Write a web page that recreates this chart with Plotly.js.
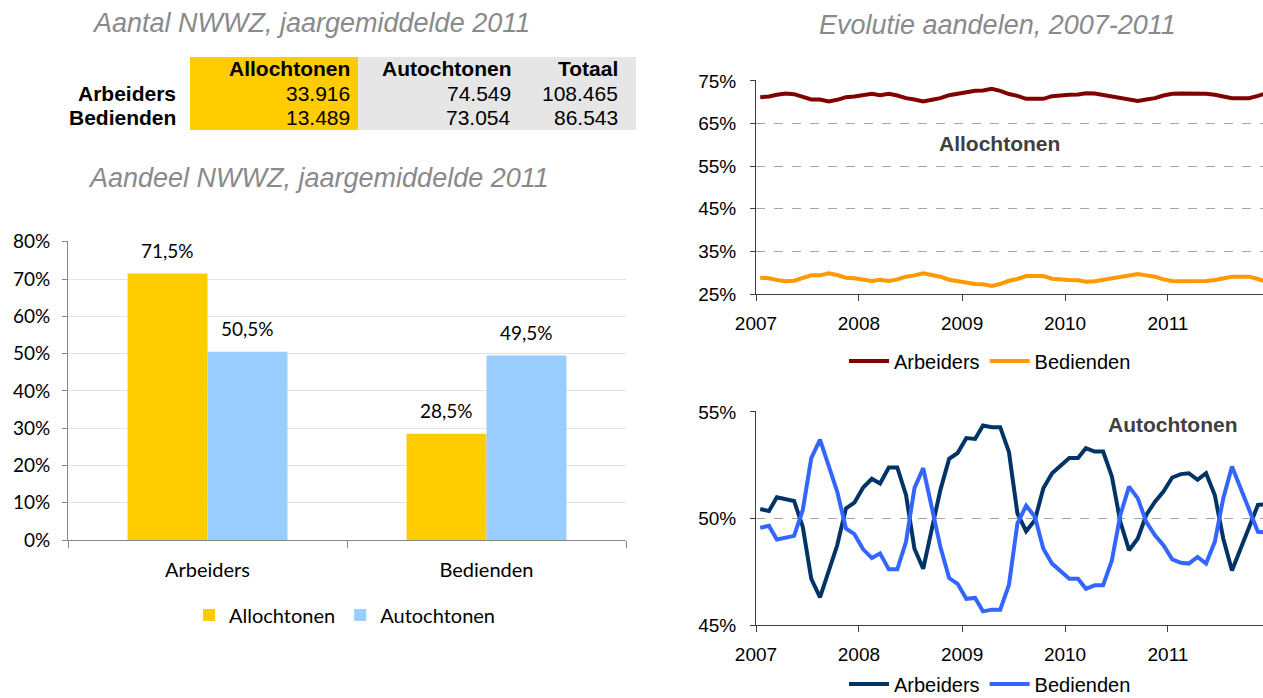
<!DOCTYPE html>
<html><head><meta charset="utf-8">
<script src="https://cdn.plot.ly/plotly-3.0.1.min.js"></script>
<style>html,body{margin:0;padding:0;background:#fff;overflow:hidden}#chart{width:1263px;height:698px}</style>
</head><body><div id="chart"></div>
<script>
// ---------- data ----------
const tableTitle = 'Aantal NWWZ, jaargemiddelde 2011';
const barTitle = 'Aandeel NWWZ, jaargemiddelde 2011';
const lineTitle = 'Evolutie aandelen, 2007-2011';
const tableCols = ['Allochtonen', 'Autochtonen', 'Totaal'];
const tableRows = ['Arbeiders', 'Bedienden'];
const tableValues = [['33.916', '74.549', '108.465'], ['13.489', '73.054', '86.543']];
const barCategories = ['Arbeiders', 'Bedienden'];
const barAllochtonen = [71.5, 28.5];
const barAutochtonen = [50.5, 49.5];
const years = ['2007', '2008', '2009', '2010', '2011'];
const lineSeries = ['Arbeiders', 'Bedienden'];
const allochArbeiders = [71.17, 71.33, 71.72, 72.03, 71.88, 71.17, 70.63, 70.63, 70.16, 70.55, 71.17, 71.33,
  71.64, 71.95, 71.64, 71.95, 71.56, 70.94, 70.63, 70.16, 70.55, 70.94, 71.64, 72.03,
  72.34, 72.66, 72.73, 73.13, 72.66, 71.90, 71.48, 70.78, 70.78, 70.78, 71.40, 71.64,
  71.72, 71.80, 72.10, 72.03, 71.72, 71.25, 71.10, 70.78, 70.31, 70.63, 70.94, 71.56,
  71.95, 72.03, 72.03, 72.03, 71.95, 71.72, 71.40, 70.94, 70.94, 70.94, 71.48, 72.10];
const allochBedienden = [28.83, 28.67, 28.28, 27.97, 28.12, 28.83, 29.37, 29.37, 29.84, 29.45, 28.83, 28.67,
  28.36, 28.05, 28.36, 28.05, 28.44, 29.06, 29.37, 29.84, 29.45, 29.06, 28.36, 27.97,
  27.66, 27.34, 27.27, 26.87, 27.34, 28.10, 28.52, 29.22, 29.22, 29.22, 28.60, 28.36,
  28.28, 28.20, 27.90, 27.97, 28.28, 28.75, 28.90, 29.22, 29.69, 29.37, 29.06, 28.44,
  28.05, 27.97, 27.97, 27.97, 28.05, 28.28, 28.60, 29.06, 29.06, 29.06, 28.52, 27.90];
const autochArbeiders = [50.44, 50.35, 50.99, 50.91, 50.82, 49.60, 47.17, 46.30, 47.48, 48.74, 50.47, 50.74,
  51.45, 51.86, 51.64, 52.39, 52.39, 51.10, 48.58, 47.64, 49.53, 51.34, 52.80, 53.07,
  53.77, 53.73, 54.36, 54.28, 54.28, 53.12, 50.24, 49.40, 49.92, 51.42, 52.12, 52.44,
  52.83, 52.83, 53.30, 53.14, 53.14, 51.97, 49.84, 48.51, 49.06, 50.16, 50.79, 51.26,
  51.92, 52.08, 52.12, 51.81, 52.12, 51.10, 49.06, 47.56, 48.58, 49.60, 50.63, 50.66];
const autochBedienden = [49.56, 49.65, 49.01, 49.09, 49.18, 50.40, 52.83, 53.70, 52.52, 51.26, 49.53, 49.26,
  48.55, 48.14, 48.36, 47.61, 47.61, 48.90, 51.42, 52.36, 50.47, 48.66, 47.20, 46.93,
  46.23, 46.27, 45.64, 45.72, 45.72, 46.88, 49.76, 50.60, 50.08, 48.58, 47.88, 47.56,
  47.17, 47.17, 46.70, 46.86, 46.86, 48.03, 50.16, 51.49, 50.94, 49.84, 49.21, 48.74,
  48.08, 47.92, 47.88, 48.19, 47.88, 48.90, 50.94, 52.44, 51.42, 50.40, 49.37, 49.34];

// month dates (mid-month) built from the year labels
const months = [];
years.forEach(y => { for (let m = 1; m <= 12; m++) months.push(y + '-' + String(m).padStart(2, '0') + '-16'); });

// ---------- layout helpers ----------
const W = 1263, H = 698;
const px = x => x / W;
const py = y => 1 - y / H;
const fmtPct = v => v.toFixed(1).replace('.', ',') + '%';

const COL = {
  alloch: '#FFCC00', autoch: '#99CCFF',
  allArb: '#800000', allBed: '#FF9900',
  autArb: '#003366', autBed: '#3366FF'
};
const arial = 'Liberation Sans, Arial, sans-serif';
const cal = 'Lato, Calibri, sans-serif';

const traces = [
  { type: 'bar', name: tableCols[0], x: barCategories, y: barAllochtonen, marker: { color: COL.alloch }, xaxis: 'x', yaxis: 'y', legend: 'legend' },
  { type: 'bar', name: tableCols[1], x: barCategories, y: barAutochtonen, marker: { color: COL.autoch }, xaxis: 'x', yaxis: 'y', legend: 'legend' },
  { type: 'scatter', mode: 'lines', name: lineSeries[0], x: months, y: allochArbeiders, line: { color: COL.allArb, width: 4 }, xaxis: 'x2', yaxis: 'y2', legend: 'legend2' },
  { type: 'scatter', mode: 'lines', name: lineSeries[1], x: months, y: allochBedienden, line: { color: COL.allBed, width: 4 }, xaxis: 'x2', yaxis: 'y2', legend: 'legend2' },
  { type: 'scatter', mode: 'lines', name: lineSeries[0], x: months, y: autochArbeiders, line: { color: COL.autArb, width: 4 }, xaxis: 'x3', yaxis: 'y3', legend: 'legend3' },
  { type: 'scatter', mode: 'lines', name: lineSeries[1], x: months, y: autochBedienden, line: { color: COL.autBed, width: 4 }, xaxis: 'x3', yaxis: 'y3', legend: 'legend3' }
];

const annotations = [];
const titleFont = { family: arial, size: 27, color: '#8A8A8A', style: 'italic' };
annotations.push({ text: tableTitle, xref: 'paper', yref: 'paper', x: px(311), y: py(23), xanchor: 'center', yanchor: 'middle', showarrow: false, font: titleFont });
annotations.push({ text: barTitle, xref: 'paper', yref: 'paper', x: px(318), y: py(178), xanchor: 'center', yanchor: 'middle', showarrow: false, font: titleFont });
annotations.push({ text: lineTitle, xref: 'paper', yref: 'paper', x: px(997), y: py(25), xanchor: 'center', yanchor: 'middle', showarrow: false, font: titleFont });

// table texts
const colRight = [352, 513, 620];
const rowY = [93, 117];
tableCols.forEach((c, j) => annotations.push({ text: '<b>' + c + '</b>', xref: 'paper', yref: 'paper', x: px(colRight[j]), y: py(68), xanchor: 'right', yanchor: 'middle', showarrow: false, font: { family: arial, size: 21, color: '#000' } }));
tableRows.forEach((r, i) => {
  annotations.push({ text: '<b>' + r + '</b>', xref: 'paper', yref: 'paper', x: px(178), y: py(rowY[i]), xanchor: 'right', yanchor: 'middle', showarrow: false, font: { family: arial, size: 21, color: '#000' } });
  tableValues[i].forEach((v, j) => annotations.push({ text: v, xref: 'paper', yref: 'paper', x: px(colRight[j]), y: py(rowY[i]), xanchor: 'right', yanchor: 'middle', showarrow: false, font: { family: arial, size: 21, color: '#000' } }));
});

// bar value labels
barCategories.forEach((c, i) => {
  annotations.push({ text: fmtPct(barAllochtonen[i]), x: c, y: barAllochtonen[i], xref: 'x', yref: 'y', xshift: -40, yshift: 23, showarrow: false, yanchor: 'middle', font: { family: cal, size: 19, color: '#000' } });
  annotations.push({ text: fmtPct(barAutochtonen[i]), x: c, y: barAutochtonen[i], xref: 'x', yref: 'y', xshift: 40, yshift: 23, showarrow: false, yanchor: 'middle', font: { family: cal, size: 19, color: '#000' } });
});

// panel labels
annotations.push({ text: '<b>' + tableCols[0] + '</b>', xref: 'paper', yref: 'paper', x: px(999), y: py(143), xanchor: 'center', yanchor: 'middle', showarrow: false, font: { family: arial, size: 21, color: '#404040' } });
annotations.push({ text: '<b>' + tableCols[1] + '</b>', xref: 'paper', yref: 'paper', x: px(1172), y: py(424), xanchor: 'center', yanchor: 'middle', showarrow: false, font: { family: arial, size: 21, color: '#404040' } });

const shapes = [
  { type: 'rect', xref: 'paper', yref: 'paper', x0: px(190), x1: px(358), y0: py(130), y1: py(57), fillcolor: COL.alloch, line: { width: 0 }, layer: 'below' },
  { type: 'rect', xref: 'paper', yref: 'paper', x0: px(358), x1: px(636), y0: py(130), y1: py(57), fillcolor: '#E6E6E6', line: { width: 0 }, layer: 'below' }
];

const lineX = () => ({
  type: 'date', domain: [px(756), 1], range: ['2007-01-01', '2011-12-04'],
  tick0: '2007-01-01', dtick: 'M12', tickformat: '%Y',
  showgrid: false, zeroline: false, showline: true, linecolor: '#404040', linewidth: 1,
  ticks: 'outside', ticklen: 6, tickcolor: '#404040',
  tickfont: { family: arial, size: 19, color: '#000' }, ticklabelstandoff: 6
});
const lineY = (dom, r, t0, dt) => ({
  domain: dom, range: r, tick0: t0, dtick: dt, ticksuffix: '%',
  showgrid: true, gridcolor: '#A6A6A6', griddash: 'dash', gridwidth: 1,
  zeroline: false, showline: true, linecolor: '#404040', linewidth: 1,
  ticks: 'outside', ticklen: 5, tickcolor: '#404040',
  tickfont: { family: arial, size: 19, color: '#000' }, ticklabelstandoff: 10
});

const layout = {
  width: W, height: H, margin: { l: 0, r: 0, t: 0, b: 0, autoexpand: false }, autosize: false,
  paper_bgcolor: '#fff', plot_bgcolor: '#fff',
  barmode: 'group', bargap: 0.427, bargroupgap: 0,
  xaxis: {
    domain: [px(68), px(626)], anchor: 'y', type: 'category',
    showline: true, linecolor: '#868686', ticks: 'outside', tickson: 'boundaries', ticklen: 7, tickcolor: '#868686',
    tickfont: { family: cal, size: 20, color: '#000' }, ticklabelstandoff: 12
  },
  yaxis: {
    domain: [py(540), py(241)], anchor: 'x', range: [0, 80.2], dtick: 10, ticksuffix: '%',
    showgrid: true, gridcolor: '#E3E3E3', zeroline: false, showline: true, linecolor: '#868686',
    ticks: 'outside', ticklen: 5, tickcolor: '#868686',
    tickfont: { family: cal, size: 19, color: '#000' }, ticklabelstandoff: 8
  },
  xaxis2: Object.assign(lineX(), { anchor: 'y2' }),
  yaxis2: Object.assign(lineY([py(294), py(80)], [25, 75.2], 25, 10), { anchor: 'x2' }),
  xaxis3: Object.assign(lineX(), { anchor: 'y3' }),
  yaxis3: Object.assign(lineY([py(625), py(411)], [45, 55.04], 45, 5), { anchor: 'x3' }),
  legend: { orientation: 'h', x: px(345), y: py(615), xanchor: 'center', yanchor: 'middle', font: { family: cal, size: 20, color: '#000' }, itemwidth: 30, bgcolor: 'rgba(0,0,0,0)' },
  legend2: { orientation: 'h', x: px(990), y: py(361), xanchor: 'center', yanchor: 'middle', font: { family: arial, size: 20, color: '#000' }, itemwidth: 40, bgcolor: 'rgba(0,0,0,0)' },
  legend3: { orientation: 'h', x: px(990), y: py(684), xanchor: 'center', yanchor: 'middle', font: { family: arial, size: 20, color: '#000' }, itemwidth: 40, bgcolor: 'rgba(0,0,0,0)' },
  showlegend: true,
  annotations: annotations,
  shapes: shapes
};

Plotly.newPlot('chart', traces, layout, { staticPlot: true, displayModeBar: false });
</script>
</body></html>
